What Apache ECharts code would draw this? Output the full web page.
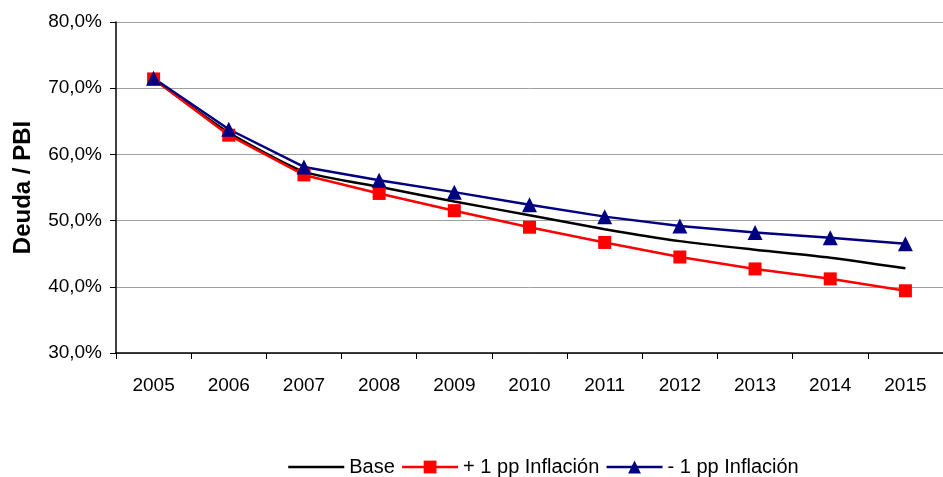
<!DOCTYPE html>
<html>
<head>
<meta charset="utf-8">
<script src="https://cdn.jsdelivr.net/npm/echarts@6/dist/echarts.min.js"></script>
<style>
	html,body{margin:0;padding:0;background:#fff;}
	#chart{width:943px;height:477px;}
</style>
</head>
<body>
<div id="chart"></div>
<script>
// años y escenarios (Deuda / PBI, %)
const years = ['2005','2006','2007','2008','2009','2010','2011','2012','2013','2014','2015']
const base = [71.4, 63.3, 57.4, 55.1, 52.9, 50.8, 48.7, 46.9, 45.6, 44.4, 42.8]
const masInflacion = [71.4, 62.9, 56.9, 54.1, 51.5, 49.0, 46.7, 44.5, 42.7, 41.2, 39.4]
const menosInflacion = [71.5, 63.8, 58.1, 56.1, 54.3, 52.4, 50.6, 49.2, 48.2, 47.4, 46.5]

let chart = echarts.init(document.getElementById('chart'))
let font = 'Liberation Sans, Arial, sans-serif'

let option = {
	animation: false,
	grid: { left: 116, right: 0, top: 22, bottom: 124 },
	legend: {
		top: 452,
		left: 282,
		itemWidth: 56,
		itemHeight: 16,
		itemGap: 6,
		textStyle: { fontFamily: font, fontSize: 20, color: '#000' },
		lineStyle: { width: 2.5 },
		data: [
			{ name: 'Base', itemStyle: { opacity: 0 } },
			'+ 1 pp Inflación',
			'- 1 pp Inflación'
		]
	},
	xAxis: {
		type: 'category',
		data: years,
		boundaryGap: true,
		axisLine: { lineStyle: { color: '#000', width: 1.5 } },
		axisTick: { show: true, alignWithLabel: false, length: 6, lineStyle: { color: '#000' } },
		axisLabel: { fontFamily: font, fontSize: 19, color: '#000', margin: 23 }
	},
	yAxis: {
		type: 'value',
		min: 30,
		max: 80,
		interval: 10,
		name: 'Deuda / PBI',
		nameLocation: 'middle',
		nameGap: 81,
		nameTextStyle: { fontFamily: font, fontSize: 24, fontWeight: 'bold', color: '#000' },
		axisLine: { show: true, lineStyle: { color: '#000', width: 1.5 } },
		axisTick: { show: true, length: 6, lineStyle: { color: '#000' } },
		axisLabel: {
			fontFamily: font, fontSize: 19, color: '#000', margin: 14,
			formatter: v => v.toFixed(1).replace('.', ',') + '%'
		},
		splitLine: { lineStyle: { color: '#a0a0a0', width: 1 } }
	},
	series: [
		{
			name: 'Base', type: 'line', data: base,
			smooth: 0.2, symbol: 'none',
			lineStyle: { color: '#000', width: 2.5 },
			itemStyle: { color: '#000' }
		},
		{
			name: '+ 1 pp Inflación', type: 'line', data: masInflacion,
			symbol: 'rect', symbolSize: 13,
			lineStyle: { color: '#ff0000', width: 2.5 },
			itemStyle: { color: '#ff0000' }
		},
		{
			name: '- 1 pp Inflación', type: 'line', data: menosInflacion,
			symbol: 'triangle', symbolSize: 15,
			lineStyle: { color: '#000080', width: 2.5 },
			itemStyle: { color: '#000080' }
		}
	]
}
chart.setOption(option)
</script>
</body>
</html>
